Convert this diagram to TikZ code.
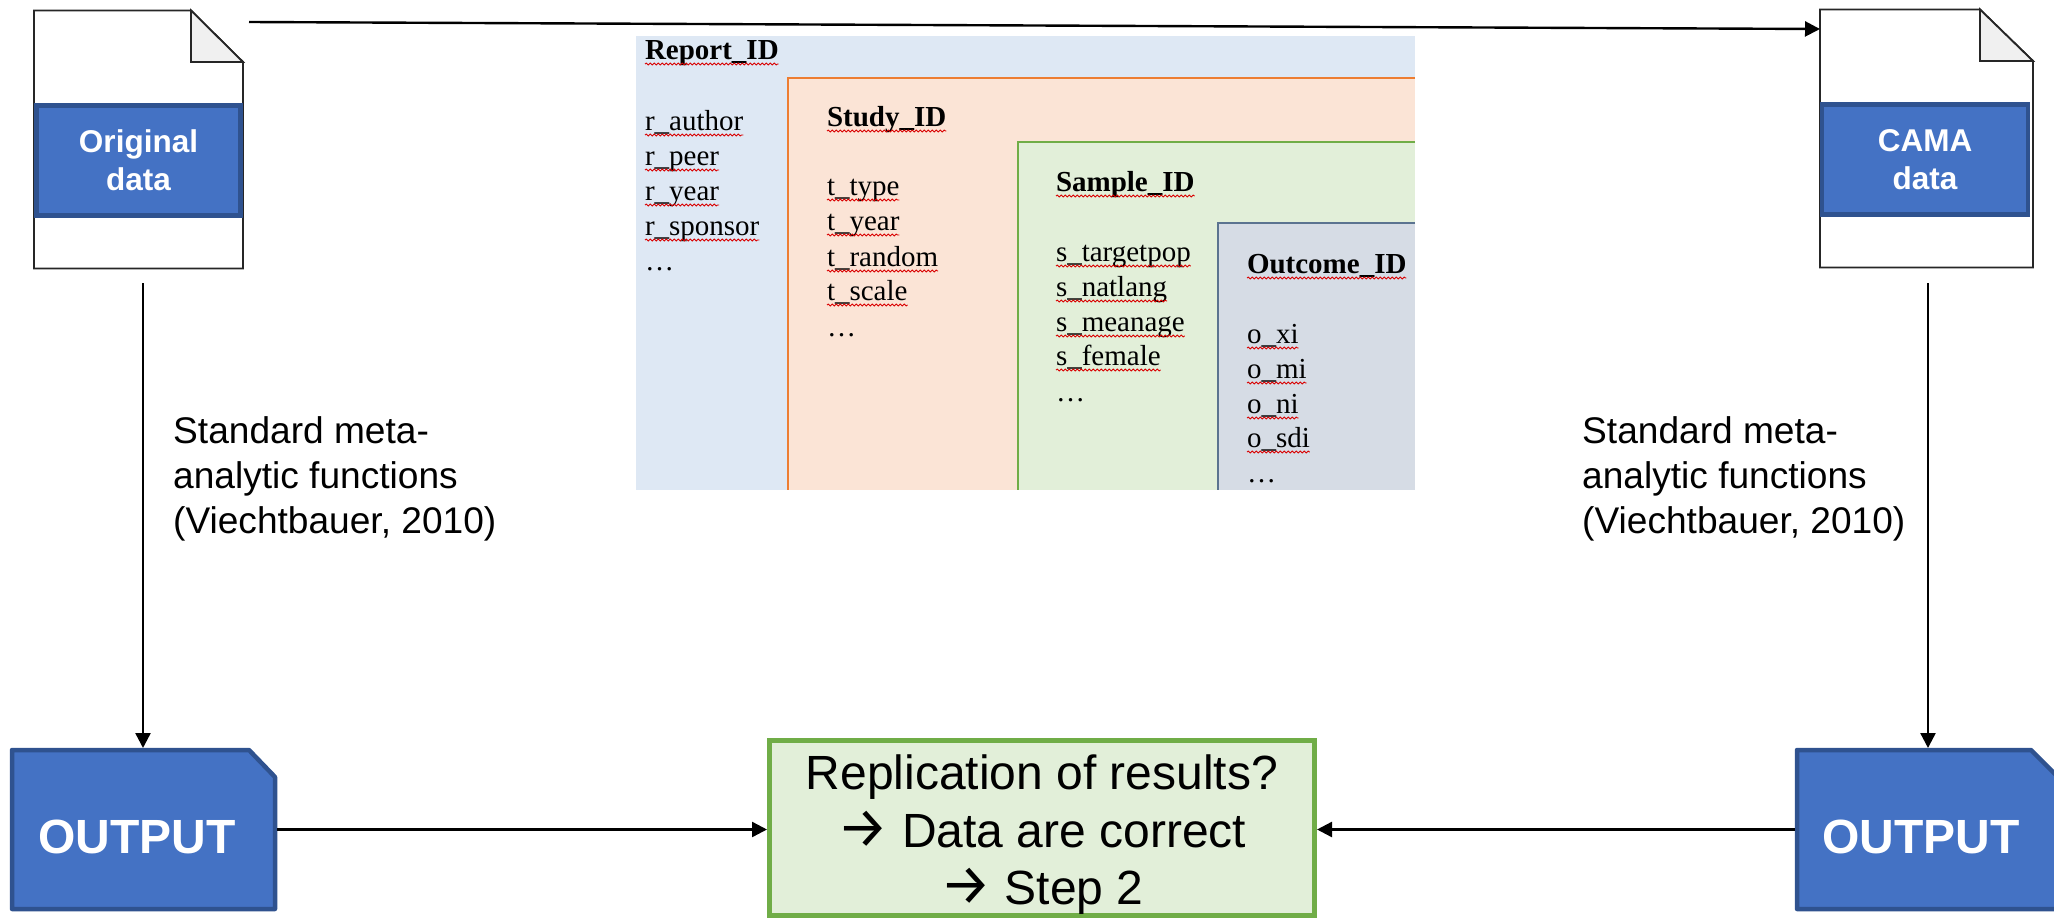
\documentclass[tikz,border=0pt]{standalone}
\usepackage{fontspec}
\setmainfont{Liberation Sans}
\newfontfamily\tms{Liberation Serif}
\newfontfamily\arw{Fira Sans}
\usetikzlibrary{arrows.meta,decorations.pathmorphing}
\definecolor{bandfill}{HTML}{4472C4}
\definecolor{bandline}{HTML}{2F528F}
\definecolor{repfill}{HTML}{DEE8F4}
\definecolor{stufill}{HTML}{FBE4D6}
\definecolor{stuline}{HTML}{ED7D31}
\definecolor{samfill}{HTML}{E2EFD9}
\definecolor{samline}{HTML}{70AD47}
\definecolor{outfill}{HTML}{D6DCE5}
\definecolor{outline}{HTML}{5B7390}
\definecolor{foldfill}{HTML}{F0F0F0}
\tikzset{
  conn/.style={draw=black,line width=2.4pt,-{Triangle[length=15pt,width=15pt]}},
  sheet/.style={draw=black!85,line width=1.8pt,fill=white,line join=miter},
  fold/.style={draw=black!85,line width=1.8pt,fill=foldfill,line join=miter},
  band/.style={draw=bandline,line width=4.5pt,fill=bandfill,text=white,inner sep=0pt,align=center,font=\fontsize{31.5}{38}\selectfont\bfseries},
  anch/.style={inner sep=0pt,outer sep=0pt},
  chip/.style={draw=bandline,line width=4.5pt,fill=bandfill,line join=round},
  chiptext/.style={text=white,inner sep=0pt,font=\fontsize{48}{56}\selectfont\bfseries},
  note/.style={anchor=north west,inner sep=0pt,align=left,font=\fontsize{37.1}{45}\selectfont},
  verdict/.style={draw=samline,line width=5pt,fill=samfill,inner sep=0pt},
  verdtext/.style={inner sep=0pt,align=center,font=\fontsize{48}{57.5}\selectfont},
  fld/.style={anchor=base west,inner sep=0pt,outer sep=0pt,font=\tms\fontsize{29}{35}\selectfont},
  hdr/.style={fld,font=\tms\fontsize{29}{35}\selectfont\bfseries},
  squig/.style={draw=red!85!black,line width=0.9pt,decorate,decoration={snake,amplitude=0.9pt,segment length=4pt}},
}
\newcommand{\wavy}[1]{\draw[squig] ([yshift=-5pt]#1.base west) -- ([yshift=-5pt]#1.base east);}
\newcommand{\arrowglyph}{{\arw\fontsize{57}{57.5}\selectfont →}}
\begin{document}
\begin{tikzpicture}[x=1pt,y=-1pt]
\useasboundingbox (0,0) rectangle (2054,918);

% embedded nested tables
\fill[repfill] (636,36) rectangle (1415,490);
\fill[stufill] (788,78) rectangle (1415,490);
\draw[stuline,line width=1.5pt] (1415,78) -- (788,78) -- (788,490);
\fill[samfill] (1018,142) rectangle (1415,490);
\draw[samline,line width=1.5pt] (1415,142) -- (1018,142) -- (1018,490);
\fill[outfill] (1218,223) rectangle (1415,490);
\draw[outline,line width=1.5pt] (1415,223) -- (1218,223) -- (1218,490);

\node[hdr] (rh) at (645,59) {Report\_ID};
\node[fld] (r1) at (645,130) {r\_author};
\node[fld] (r2) at (645,165) {r\_peer};
\node[fld] (r3) at (645,200) {r\_year};
\node[fld] (r4) at (645,235) {r\_sponsor};
\node[fld] (r5) at (645,270) {…};
\node[hdr] (th) at (827,126) {Study\_ID};
\node[fld] (t1) at (827,195) {t\_type};
\node[fld] (t2) at (827,230) {t\_year};
\node[fld] (t3) at (827,266) {t\_random};
\node[fld] (t4) at (827,300) {t\_scale};
\node[fld] (t5) at (827,336) {…};
\node[hdr] (sh) at (1056,191) {Sample\_ID};
\node[fld] (s1) at (1056,261) {s\_targetpop};
\node[fld] (s2) at (1056,296) {s\_natlang};
\node[fld] (s3) at (1056,331) {s\_meanage};
\node[fld] (s4) at (1056,365) {s\_female};
\node[fld] (s5) at (1056,401) {…};
\node[hdr] (oh) at (1247,273) {Outcome\_ID};
\node[fld] (o1) at (1247,343) {o\_xi};
\node[fld] (o2) at (1247,378) {o\_mi};
\node[fld] (o3) at (1247,413) {o\_ni};
\node[fld] (o4) at (1247,447) {o\_sdi};
\node[fld] (o5) at (1247,482) {…};
\foreach \n in {rh,r1,r2,r3,r4,th,t1,t2,t3,t4,sh,s1,s2,s3,s4,oh,o1,o2,o3,o4}{\wavy{\n}}

% data sheets
\draw[sheet] (34,10.5) -- (191,10.5) -- (243,62) -- (243,268.5) -- (34,268.5) -- cycle;
\draw[fold] (191,10.5) -- (243,62) -- (191,62) -- cycle;
\node[band,minimum width=204pt,minimum height=110pt] (orig) at (138.5,160.5) {Original\\data};

\draw[sheet] (1820,9.5) -- (1980,9.5) -- (2033,61) -- (2033,267.5) -- (1820,267.5) -- cycle;
\draw[fold] (1980,9.5) -- (2033,61) -- (1980,61) -- cycle;
\node[band,minimum width=206pt,minimum height=110pt] (cama) at (1925,159.5) {CAMA\\data};

% output boxes
\draw[chip] (12,750) -- (249,750) -- (275,777) -- (275,909) -- (12,909) -- cycle;
\node[anch,minimum width=267pt,minimum height=163pt] (outL) at (143.5,829.5) {};
\node[chiptext] at (137,837) {OUTPUT};
\draw[chip] (1797,750) -- (2031,750) -- (2058,777) -- (2058,909) -- (1797,909) -- cycle;
\node[anch,minimum width=263pt,minimum height=163pt] (outR) at (1926.5,829.5) {};
\node[chiptext] at (1921,837) {OUTPUT};

% verdict
\node[verdict,minimum width=545pt,minimum height=175pt] (res) at (1042,828) {};
\node[verdtext] (restext) at (1042,835) {Replication of results?\\\arrowglyph{} Data are correct\\\arrowglyph{} Step 2};

% notes
\node[note] (n1) at (173,416) {Standard meta-\\analytic functions\\(Viechtbauer, 2010)};
\node[note] (n2) at (1582,416) {Standard meta-\\analytic functions\\(Viechtbauer, 2010)};

% connectors
\coordinate (topS) at (249,22);
\coordinate (topE) at (1820,29);
\coordinate (dnL) at (143,283);
\coordinate (dnR) at (1928,283);
\draw[conn] (topS) -- (topE);
\draw[conn] (dnL) -- (dnL |- outL.north);
\draw[conn] (dnR) -- (dnR |- outR.north);
\draw[conn] (outL.east) -- (outL.east -| res.west);
\draw[conn] (outR.west) -- (outR.west -| res.east);
\end{tikzpicture}
\end{document}
